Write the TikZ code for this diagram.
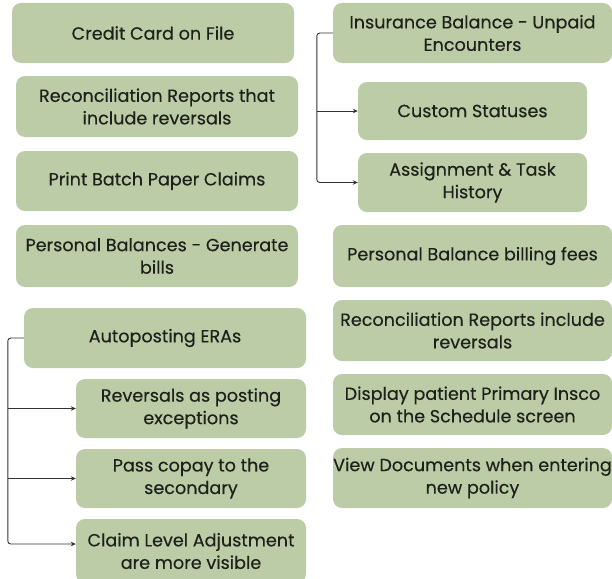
\documentclass[tikz,border=0pt]{standalone}
\usepackage{fontspec}
\setmainfont{Poppins}
\usetikzlibrary{arrows.meta}
\definecolor{boxfill}{RGB}{187,204,167}
\definecolor{txt}{RGB}{30,32,26}
\definecolor{linecol}{RGB}{50,50,50}
\begin{document}
\begin{tikzpicture}[x=1pt,y=-1pt,
  box/.style={fill=boxfill, draw=none, rounded corners=9pt, align=center, text=txt,
    font=\fontsize{17.6}{22.5}\selectfont\addfontfeature{FakeBold=0.3}, inner sep=0pt},
  conn/.style={draw=linecol, line width=0.9pt, rounded corners=3pt},
  arr/.style={conn, -{Stealth[length=5pt,width=4.5pt]}}]
\useasboundingbox (0,0) rectangle (612,578);
% left column
\node[box, minimum width=282pt, minimum height=60pt] (ccf) at (153,33) {Credit Card on File};
\node[box, minimum width=282pt, minimum height=61pt] (rec1) at (157,106.5) {Reconciliation Reports that\\include reversals};
\node[box, minimum width=282pt, minimum height=60pt] (pbp) at (157,181) {Print Batch Paper Claims};
\node[box, minimum width=282pt, minimum height=62pt] (pbg) at (157,256) {Personal Balances - Generate\\bills};
\node[box, minimum width=282pt, minimum height=60pt] (auto) at (165,338) {Autoposting ERAs};
\node[box, minimum width=230pt, minimum height=59pt] (rev) at (191,408.5) {Reversals as posting\\exceptions};
\node[box, minimum width=230pt, minimum height=59pt] (pass) at (191,478.5) {Pass copay to the\\secondary};
\node[box, minimum width=230pt, minimum height=64pt] (claim) at (191,551) {Claim Level Adjustment\\are more visible};
% right column
\node[box, minimum width=279pt, minimum height=60pt] (ib) at (472.5,33) {Insurance Balance - Unpaid\\Encounters};
\node[box, minimum width=229pt, minimum height=58pt] (cs) at (472.5,111) {Custom Statuses};
\node[box, minimum width=229pt, minimum height=59pt] (ath) at (472.5,182.5) {Assignment \& Task\\History};
\node[box, minimum width=279pt, minimum height=62pt] (pbf) at (472.5,256) {Personal Balance billing fees};
\node[box, minimum width=279pt, minimum height=61pt] (rec2) at (472.5,330.5) {Reconciliation Reports include\\reversals};
\node[box, minimum width=279pt, minimum height=61pt] (disp) at (472.5,404.5) {Display patient Primary Insco\\on the Schedule screen};
\node[box, minimum width=279pt, minimum height=60pt] (view) at (472.5,478) {View Documents when entering\\new policy};
% connectors right
\coordinate (j1) at ([xshift=-16pt]ib.west);
\draw[arr] (ib.west) -- (j1) |- (ath.west);
\draw[arr, rounded corners=0pt] (j1 |- cs.west) -- (cs.west);
% connectors left
\coordinate (j2) at ([xshift=-16pt]auto.west);
\coordinate (e2) at ([yshift=7pt]claim.west);
\draw[arr] (auto.west) -- (j2) |- (e2);
\draw[arr, rounded corners=0pt] (j2 |- rev.west) -- (rev.west);
\draw[arr, rounded corners=0pt] (j2 |- pass.west) -- (pass.west);
\end{tikzpicture}
\end{document}
